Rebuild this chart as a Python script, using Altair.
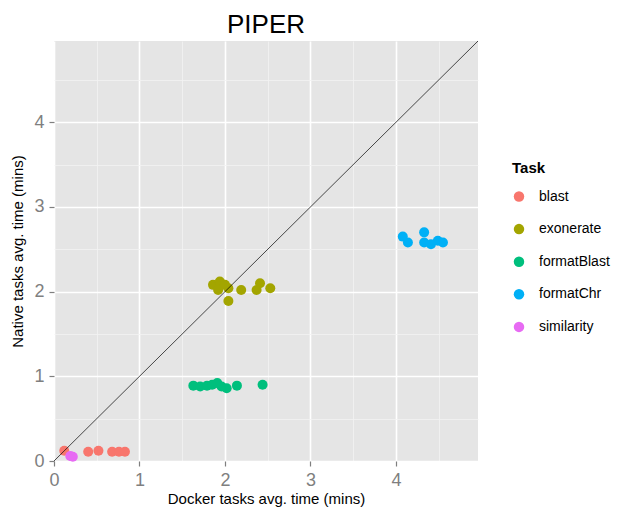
import altair as alt
import pandas as pd

task_names = ["blast", "exonerate", "formatBlast", "formatChr", "similarity"]
task_colors = ["#F8766D", "#A3A500", "#00BF7D", "#00B0F6", "#E76BF3"]

blast_docker = [0.12, 0.40, 0.52, 0.68, 0.76, 0.83]
blast_native = [0.12, 0.11, 0.12, 0.11, 0.11, 0.11]

exonerate_docker = [1.86, 1.94, 1.92, 2.00, 2.04, 2.04, 2.19, 2.37, 2.41, 2.53]
exonerate_native = [2.08, 2.12, 2.02, 2.08, 2.04, 1.89, 2.02, 2.02, 2.10, 2.04]

formatblast_docker = [1.63, 1.71, 1.79, 1.85, 1.91, 1.96, 2.02, 2.14, 2.44]
formatblast_native = [0.89, 0.88, 0.89, 0.90, 0.92, 0.88, 0.86, 0.89, 0.90]

formatchr_docker = [4.08, 4.14, 4.33, 4.33, 4.41, 4.49, 4.55]
formatchr_native = [2.65, 2.58, 2.70, 2.58, 2.56, 2.60, 2.58]

similarity_docker = [0.19, 0.22]
similarity_native = [0.06, 0.05]

diag_values = [0.0, 4.96]
axis_max = 4.96
grid_values = [0, 0.5, 1, 1.5, 2, 2.5, 3, 3.5, 4, 4.5]

rows = []
for name, xs, ys in [
    ("blast", blast_docker, blast_native),
    ("exonerate", exonerate_docker, exonerate_native),
    ("formatBlast", formatblast_docker, formatblast_native),
    ("formatChr", formatchr_docker, formatchr_native),
    ("similarity", similarity_docker, similarity_native),
]:
    for x, y in zip(xs, ys):
        rows.append({"docker": x, "native": y, "task": name})
df = pd.DataFrame(rows)
diag_df = pd.DataFrame({"docker": diag_values, "native": diag_values})

FONT = "Liberation Sans"

def make_axis(title, title_padding):
    return alt.Axis(
        title=title,
        values=grid_values,
        labelExpr="datum.value % 1 === 0 ? '' + datum.value : ''",
        gridColor={"condition": {"test": "datum.value % 1 === 0", "value": "#ffffff"}, "value": "#f2f2f2"},
        gridWidth={"condition": {"test": "datum.value % 1 === 0", "value": 1.6}, "value": 0.8},
        tickOpacity={"condition": {"test": "datum.value % 1 === 0", "value": 1}, "value": 0},
        tickSize=5,
        tickWidth=1.2,
        tickColor="#7f7f7f",
        labelColor="#7f7f7f",
        labelFontSize=18,
        labelFont=FONT,
        labelPadding=5,
        titleFont=FONT,
        titleFontSize=15,
        titleFontWeight="normal",
        titleColor="#000000",
        titlePadding=title_padding,
        domain=False,
        labelFlush=False,
        labelOverlap=False,
    )

scale_x = alt.Scale(domain=[0, axis_max], nice=False, zero=False)
scale_y = alt.Scale(domain=[0, axis_max], nice=False, zero=False)

points = alt.Chart(df).mark_circle(size=100, opacity=1).encode(
    x=alt.X("docker:Q", scale=scale_x, axis=make_axis("Docker tasks avg. time (mins)", 2)),
    y=alt.Y("native:Q", scale=scale_y, axis=make_axis("Native tasks avg. time (mins)", 8)),
    color=alt.Color(
        "task:N",
        scale=alt.Scale(domain=task_names, range=task_colors),
        legend=alt.Legend(
            title="Task",
            orient="none",
            legendX=458,
            legendY=120,
            titleFont=FONT,
            titleFontSize=15,
            titleFontWeight="bold",
            titlePadding=13.5,
            labelFont=FONT,
            labelFontSize=14,
            labelColor="#000000",
            labelLimit=200,
            symbolType="circle",
            symbolSize=110,
            symbolStrokeWidth=0,
            rowPadding=18.6,
            labelOffset=13,
        ),
    ),
)

line = alt.Chart(diag_df).mark_line(color="black", strokeWidth=0.7, clip=True).encode(
    x=alt.X("docker:Q", scale=scale_x),
    y=alt.Y("native:Q", scale=scale_y),
)

chart = alt.layer(points, line).properties(
    width=424,
    height=420,
    title=alt.TitleParams(
        "PIPER", font=FONT, fontSize=26, fontWeight="normal", color="#000000",
        anchor="middle", offset=3,
    ),
    autosize=alt.AutoSizeParams(type="none"),
    padding={"left": 46, "top": 33, "right": 134, "bottom": 46},
).configure_view(stroke=None, fill="#e5e5e5")

chart.save("out.html", embed_options={"renderer": "svg", "actions": False})
